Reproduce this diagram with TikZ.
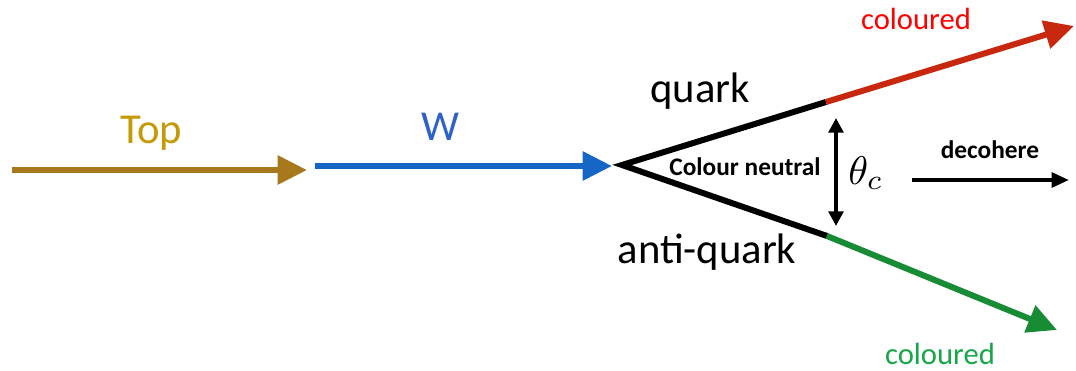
\documentclass[tikz,border=0pt]{standalone}
\usepackage{fontspec}
\setmainfont{Carlito}
\usepackage{amsmath}
\usetikzlibrary{arrows.meta}

\definecolor{topline}{HTML}{A8781C}
\definecolor{toptext}{HTML}{C49A06}
\definecolor{wline}{HTML}{1666C5}
\definecolor{wtext}{HTML}{2E62C6}
\definecolor{qline}{HTML}{C8280E}
\definecolor{aline}{HTML}{178C34}
\definecolor{atext}{HTML}{19A64A}

\begin{document}
\begin{tikzpicture}[x=0.75pt, y=-0.75pt,
        big/.style = {font=\fontsize{32}{36}\selectfont, anchor=base},
        small/.style = {font=\fontsize{23}{26}\selectfont, anchor=base},
        tiny/.style = {font=\fontsize{19}{22}\selectfont\bfseries, anchor=base},
        fat/.style = {line width=4.5pt, -{Triangle[length=22pt, width=21pt]}},
        thin/.style = {line width=3pt}]
    \useasboundingbox (0,0) rectangle (1076,371);

    \coordinate (topstart) at (12,170);
    \coordinate (topend) at (307,170);
    \coordinate (wstart) at (315,166);
    \coordinate (wend) at (612,166);
    \coordinate (vertex) at (622,165);
    \coordinate (qsplit) at (826,102);
    \coordinate (qend) at (1074,26);
    \coordinate (asplit) at (827,236);
    \coordinate (aend) at (1057,330);
    \coordinate (thtop) at (836,118);
    \coordinate (thbot) at (836,226);
    \coordinate (decstart) at (912,180);
    \coordinate (decend) at (1069,180);

    \draw[fat, topline] (topstart) -- (topend);
    \draw[fat, wline] (wstart) -- (wend);
    \draw[line width=4.5pt, line join=miter] (qsplit) -- (vertex) -- (asplit);
    \draw[fat, qline] (qsplit) -- (qend);
    \draw[fat, aline] (asplit) -- (aend);
    \draw[thin, {Triangle[length=11pt, width=11pt]}-{Triangle[length=11pt, width=11pt]}] (thtop) -- (thbot);
    \draw[thin, -{Triangle[length=13pt, width=11pt]}] (decstart) -- (decend);

    \node[big, toptext] (top) at (151,143) {Top};
    \node[big, wtext] (w) at (440,140) {W};
    \node[big] (quark) at (700,102) {quark};
    \node[big] (antiquark) at (707,263) {anti-quark};
    \node[small, red] (qcol) at (916,29) {coloured};
    \node[small, atext] (acol) at (940,364) {coloured};
    \node[tiny] (neutral) at (745,175) {Colour neutral};
    \node[tiny] (decohere) at (990,158) {decohere};
    \node[anchor=base] (theta) at (866,184) {\scalebox{3}{$\theta_c$}};
\end{tikzpicture}
\end{document}
